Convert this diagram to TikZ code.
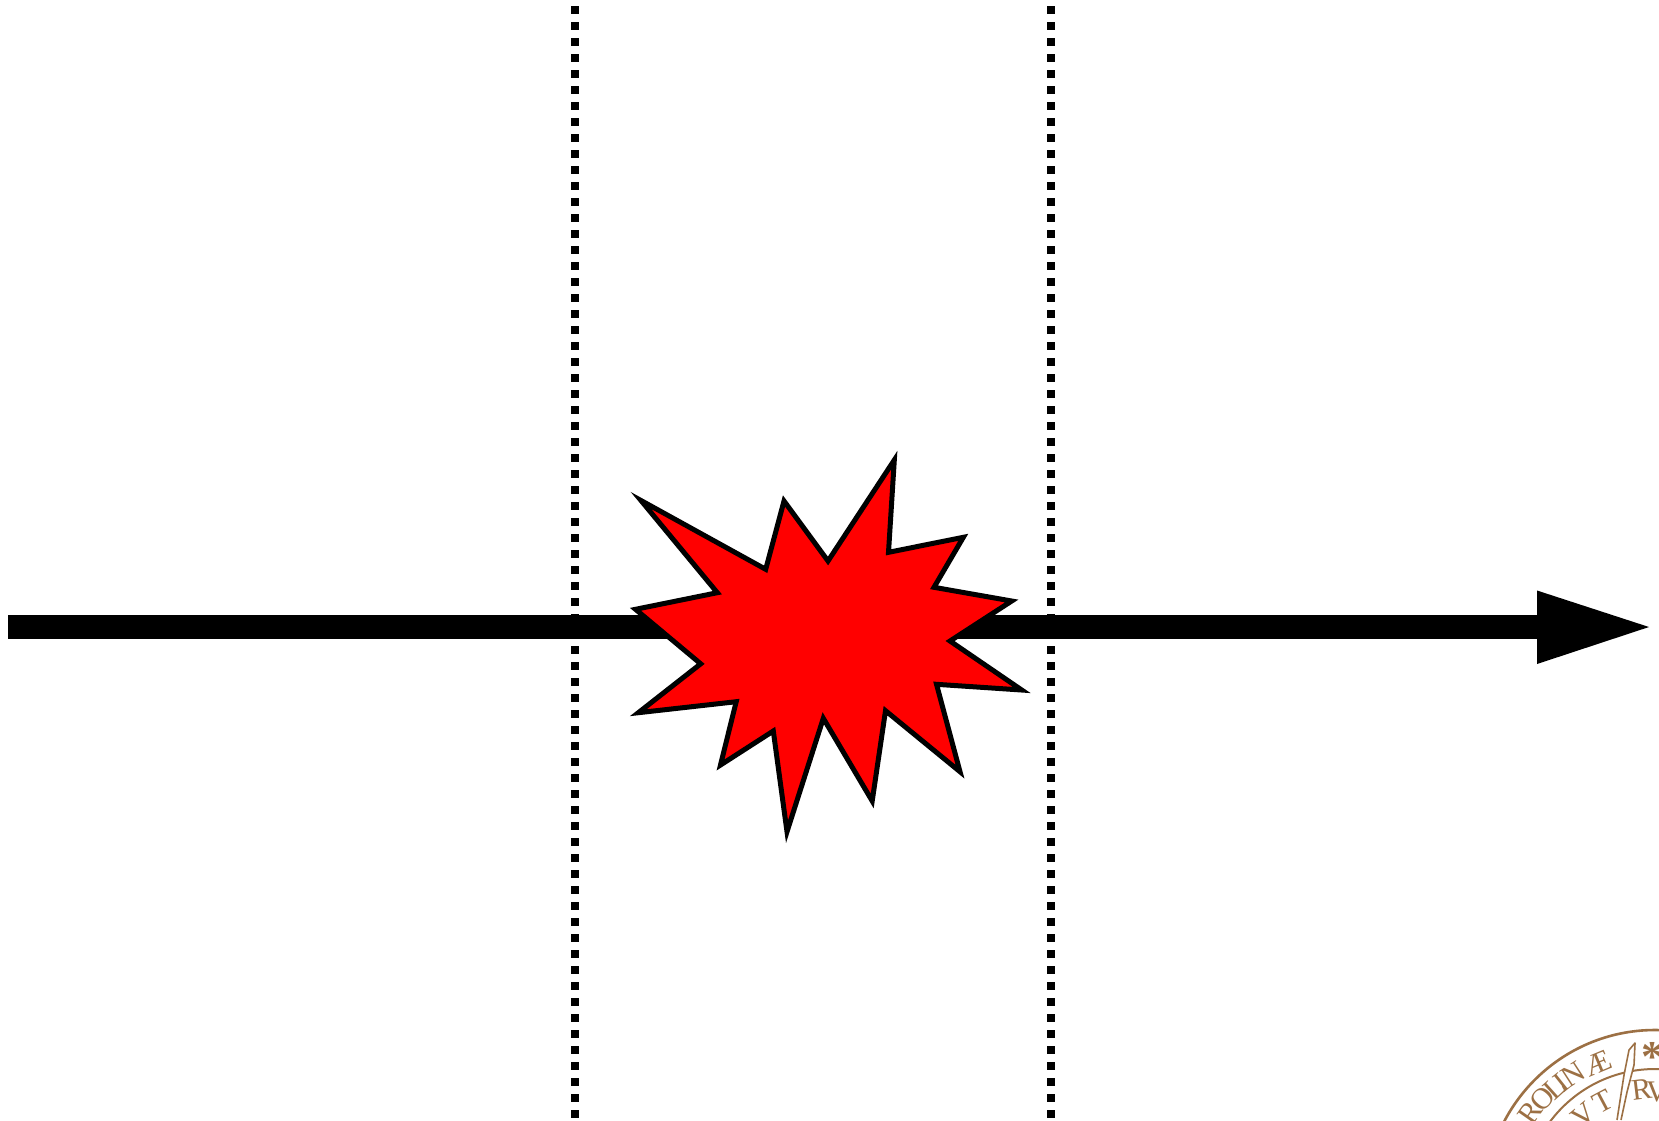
\documentclass[tikz,border=0pt]{standalone}
\usepackage{fontspec}
\setmainfont{Liberation Serif}
\usetikzlibrary{calc}
\definecolor{sealbrown}{RGB}{156,112,68}
\tikzset{
  guide/.style={line width=8pt,black,dash pattern=on 8pt off 8pt},
  mainshaft/.style={line width=24.5pt,black},
  mainhead/.style={fill=black},
  burst/.style={draw=black,fill=red,line width=5pt,miter limit=25,line join=miter},
  sealline/.style={draw=sealbrown,line width=2.6pt},
  sealtext/.style={text=sealbrown,font=\fontsize{30}{30}\selectfont,inner sep=0pt}
}
\newcommand{\sealletter}[4]{\node[sealtext,rotate=#2] (#1) at ($(sc)+({-#3*sin(#2)},{-#3*cos(#2)})$) {#4};}
\begin{document}
\begin{tikzpicture}[x=1pt,y=-1pt]
\useasboundingbox (0,0) rectangle (1659,1120);
\fill[white] (0,0) rectangle (1659,1120);
\coordinate (g1a) at (575,6);
\coordinate (g1b) at (575,1120);
\coordinate (g2a) at (1051,6);
\coordinate (g2b) at (1051,1120);
\coordinate (as) at (8,627);
\coordinate (ab) at (1537,627);
\coordinate (ae) at (1649,627);
\coordinate (ht) at (1537,590.5);
\coordinate (hb) at (1537,664);
\draw[guide] (g1a) -- (g1b);
\draw[guide] (g2a) -- (g2b);
\draw[mainshaft] (as) -- (ab);
\fill[mainhead] (ht) -- (ae) -- (hb) -- cycle;
\draw[burst] (641,500.5) -- (765.7,569.3) -- (784,501) -- (828,561) -- (894.3,460) -- (888.5,552.3)
 -- (963.3,537.3) -- (934,587.3) -- (1011.7,601) -- (950,641) -- (1021.7,690) -- (936.5,684.3)
 -- (960,771.7) -- (885.5,710.7) -- (872.2,801) -- (823.3,718.3) -- (787,831.7) -- (773.3,731)
 -- (720.5,765) -- (736.2,701.7) -- (638.3,712.7) -- (700.7,663.8) -- (635.5,609.3) -- (717.3,592.7) -- cycle;
\begin{scope}
\clip (0,0) rectangle (1659,1120);
\coordinate (sc) at (1655,1200);
\draw[sealline] (sc) circle[radius=170];
\draw[sealline,line width=2pt] (sc) circle[radius=131];
\fill[white] (1617,1120) -- (1629,1050) -- (1635,1043) -- (1634,1065) -- (1621,1120) -- cycle;
\draw[sealline,line width=1.6pt,line join=round] (1617,1120) -- (1624,1075) -- (1629,1050) -- (1635,1043) -- (1634,1065) -- (1627,1092) -- (1621,1120);
\sealletter{tRa}{55}{152}{R}
\sealletter{tO}{48}{151}{O}
\sealletter{tL}{42}{150}{L}
\sealletter{tI}{38.5}{150}{I}
\sealletter{tN}{33}{150}{N}
\sealletter{tAE}{22.5}{148}{Æ}
\sealletter{tV}{40}{111}{V}
\sealletter{tT}{28}{111}{T}
\sealletter{tR}{7}{111}{R}
\sealletter{tU}{-1}{108}{V}
\node[sealtext,font=\bfseries\fontsize{44}{44}\selectfont] (tS) at (1652,1057) {*};
\end{scope}
\end{tikzpicture}
\end{document}
